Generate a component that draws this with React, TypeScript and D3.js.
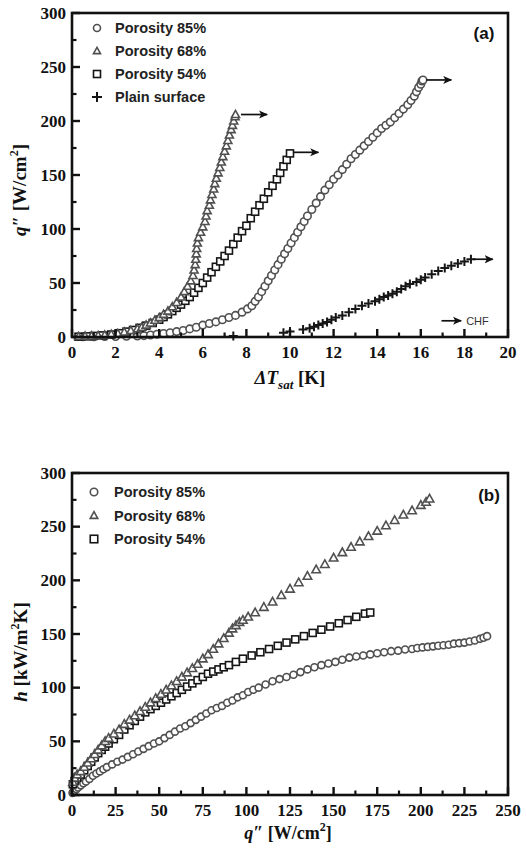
import React from 'react';
import * as d3 from 'd3';

type P = [number, number];

// ---------- Panel (a): q'' vs ΔT_sat ----------
const a85: P[] = [
  [0.5,0.2],[1,0.3],[1.5,0.4],[2,0.5],[2.5,0.7],[3,1],[3.3,1.3],[3.6,1.8],[3.9,2.5],[4.2,3.3],[4.5,4],[4.8,5],
  [5.1,6],[5.4,7.5],[5.7,9],[6.0,11],[6.3,12.5],[6.6,14],[6.9,16],[7.2,18],[7.5,20],[7.8,23],[8.05,26],[8.25,29],
  [8.4,33],[8.55,37],[8.7,42],[8.85,47],[9.0,52],[9.15,57],[9.3,62],[9.45,67],[9.6,72],[9.75,77],[9.9,82],
  [10.05,87],[10.2,92],[10.35,97],[10.5,102],[10.65,107],[10.8,112],[11.0,118],[11.2,124],[11.4,130],[11.6,136],[11.8,141],
  [12.0,146],[12.2,150],[12.4,155],[12.6,160],[12.8,165],[13.0,169],[13.2,173],[13.4,177],[13.6,181],[13.8,185],
  [14.0,189],[14.2,193],[14.4,196],[14.6,199],[14.8,203],[15.0,207],[15.2,211],[15.4,215],[15.55,219],[15.7,223],
  [15.8,227],[15.9,231],[16.0,234],[16.05,237],[16.1,238],
];
const a68: P[] = [
  [0.3,0.5],[0.6,0.8],[0.9,1],[1.2,1.3],[1.5,1.8],[1.8,2.5],[2.1,3.2],[2.4,4.5],[2.7,6],[3.0,7.5],[3.2,9],[3.4,11],
  [3.6,13],[3.8,15.5],[4.0,18],[4.2,21],[4.4,24],[4.6,28],[4.8,32],[5.0,37],[5.15,42],[5.3,47],[5.45,52],[5.55,57],
  [5.6,62],[5.65,67],[5.68,72],[5.7,77],[5.72,82],[5.75,87],[5.8,92],[5.9,97],[6.0,102],[6.1,107],[6.15,112],
  [6.2,117],[6.3,122],[6.35,127],[6.42,132],[6.5,137],[6.55,142],[6.62,147],[6.7,152],[6.78,157],[6.85,162],
  [6.92,167],[7.0,172],[7.08,177],[7.15,182],[7.22,187],[7.3,192],[7.36,196],[7.42,200],[7.48,204],[7.5,206],
];
const a54: P[] = [
  [0.3,0.3],[0.7,0.6],[1.0,1],[1.4,1.5],[1.8,2.3],[2.2,3.5],[2.5,5],[2.8,6.5],[3.1,8.5],[3.4,10.5],[3.7,13],
  [4.0,16],[4.2,18.5],[4.4,21],[4.6,24],[4.8,27],[5.0,30],[5.2,33.5],[5.4,37],[5.6,41],[5.8,45.5],[6.0,50],
  [6.2,55],[6.4,60],[6.6,65],[6.8,70],[7.0,75],[7.2,80],[7.4,86],[7.6,92],[7.8,98],[8.0,103],[8.2,110],[8.4,116],
  [8.6,122],[8.8,128],[9.0,134],[9.2,140],[9.4,146],[9.55,152],[9.7,158],[9.85,164],[10.0,170],
];
const aPlain: P[] = [
  [7.4,1],[9.7,4],[10.0,5],[10.6,7],[10.9,8],[11.1,9.5],[11.3,11],[11.5,12.5],[11.7,14],[11.9,16],[12.1,18],
  [12.4,20],[12.7,23],[13.0,26],[13.3,29],[13.6,31],[13.9,33],[14.1,35],[14.3,37],[14.5,38.5],[14.7,40],[14.9,42],
  [15.1,44.5],[15.3,47],[15.5,49],[15.8,51],[16.0,53],[16.2,55],[16.5,58],[16.8,61],[17.1,64],[17.4,66],[17.7,68],
  [18.0,70],[18.3,72],
];
// CHF arrows: [x start, x end, y]
const chfArrows: [number, number, number][] = [
  [7.75, 8.95, 206],
  [10.15, 11.3, 171],
  [16.25, 17.4, 238],
  [18.4, 19.3, 72],
];
const chfLegendArrow: [number, number, number] = [16.95, 17.85, 15];

// ---------- Panel (b): h vs q'' ----------
const b85: P[] = [
  [0.3,2],[0.8,3],[1.5,4],[2.5,5.5],[3.5,7],[5,9],[6.5,11],[8,12.5],[10,15],[12,18],[14,20],[16,22],[18,24],
  [20,26],[23,28.5],[26,31],[29,33],[32,35.5],[35,38],[38,40.5],[41,43],[44,45.5],[47,48],[50,50],[53,53],
  [56,56],[59,59],[62,62],[65,64],[68,67],[71,70],[74,73],[77,76],[80,79],[83,81],[86,83],[89,86],[92,88],
  [95,91],[98,93],[101,96],[104,98],[107,100],[111,103],[115,106],[119,108],[123,110],[127,112],[131,114.5],
  [135,117],[139,119],[143,121],[147,122.5],[151,124],[155,126],[159,128],[163,129],[167,130],[171,131],
  [175,132],[179,133],[183,134],[187,134.5],[191,135.5],[195,136],[198,137],[201,137.5],[204,138],[207,138.5],
  [210,139],[213,139.5],[216,140],[219,141],[222,141.5],[225,142],[228,143],[231,144],[234,145.5],[236,146.5],
  [238,148],
];
const b68: P[] = [
  [0.5,12],[1.5,16],[3,19],[5,22],[7,26],[9,30],[11,34],[13,38],[15,42],[17,46],[19,50],[21,53],[24,57],[27,61],
  [30,66],[33,70],[36,74],[39,78],[42,82],[45,86],[48,90],[51,94],[54,98],[57,102],[60,106],[63,110],[66,114],
  [69,118],[72,122],[75,127],[78,131],[81,136],[84,141],[87,146],[90,151],[92,155],[94,158],[96,161],[98,163],
  [101,166],[105,170],[110,175],[115,180],[120,186],[125,192],[130,198],[135,204],[140,210],[145,215],[150,221],
  [155,226],[160,231],[165,236],[170,241],[175,246],[180,251],[185,256],[190,261],[195,265],[200,270],[203,273],
  [205,276],
];
const b54: P[] = [
  [0.5,10],[1.5,13],[3,16],[5,19],[7,23],[9,27],[11,31],[13,35],[15,39],[17,42],[19,45],[21,48],[24,52],[27,56],
  [30,61],[33,65],[36,69],[39,73],[42,77],[45,80],[48,83],[51,86],[54,89],[57,92],[60,95],[63,98],[66,101],
  [69,104],[72,107],[75,110],[78,113],[81,115],[84,117],[87,119],[90,121],[94,124],[98,127],[103,130],[108,133],
  [113,136],[118,139],[123,142],[128,145],[133,148],[138,151],[143,154],[148,157],[153,160],[158,163],[163,166],
  [168,169],[171,170],
];

const xTicksA = [0, 2, 4, 6, 8, 10, 12, 14, 16, 18, 20];
const xMinorA = [1, 3, 5, 7, 9, 11, 13, 15, 17, 19];
const yTicks = [0, 50, 100, 150, 200, 250, 300];
const yMinor = [25, 75, 125, 175, 225, 275];
const xTicksB = [0, 25, 50, 75, 100, 125, 150, 175, 200, 225, 250];
const xMinorB = [12.5, 37.5, 62.5, 87.5, 112.5, 137.5, 162.5, 187.5, 212.5, 237.5];

const legendA = ['Porosity 85%', 'Porosity 68%', 'Porosity 54%', 'Plain surface'];
const legendB = ['Porosity 85%', 'Porosity 68%', 'Porosity 54%'];

const GREY = '#505050';
const DARK = '#161616';
const SERIF = '"Liberation Serif", "Times New Roman", serif';
const SANS = '"Liberation Sans", Arial, sans-serif';

type Kind = 'circle' | 'triangle' | 'square' | 'plus';

function Mark({ kind, x, y, s, color, sw = 1.6 }: { kind: Kind; x: number; y: number; s: number; color: string; sw?: number }) {
  if (kind === 'circle') return <circle cx={x} cy={y} r={s / 2} fill="#fff" stroke={color} strokeWidth={sw} />;
  if (kind === 'square') return <rect x={x - s / 2} y={y - s / 2} width={s} height={s} fill="#fff" stroke={color} strokeWidth={sw} />;
  if (kind === 'triangle') {
    const h = s * 0.9;
    return <path d={`M${x},${y - h * 0.58}L${x + s / 2},${y + h * 0.42}L${x - s / 2},${y + h * 0.42}Z`} fill="#fff" stroke={color} strokeWidth={sw} strokeLinejoin="miter" />;
  }
  return <path d={`M${x - s / 2},${y}H${x + s / 2}M${x},${y - s / 2}V${y + s / 2}`} stroke={color} strokeWidth={2} fill="none" />;
}

function Frame({ x, y, xMajor, xMinor, yMajor, yMinor, xFmt }: any) {
  const [x0, x1] = x.range();
  const [y0, y1] = y.range();
  const sw = 2.6;
  return (
    <g>
      <rect x={x0} y={y1} width={x1 - x0} height={y0 - y1} fill="none" stroke="#111" strokeWidth={sw} />
      {xMajor.map((t: number) => (
        <line key={'xm' + t} x1={x(t)} x2={x(t)} y1={y0} y2={y0 - 8} stroke="#111" strokeWidth={2.4} />
      ))}
      {xMinor.map((t: number) => (
        <line key={'xn' + t} x1={x(t)} x2={x(t)} y1={y0} y2={y0 - 4.5} stroke="#111" strokeWidth={2.2} />
      ))}
      {yMajor.map((t: number) => (
        <line key={'ym' + t} x1={x0} x2={x0 + 8} y1={y(t)} y2={y(t)} stroke="#111" strokeWidth={2.4} />
      ))}
      {yMinor.map((t: number) => (
        <line key={'yn' + t} x1={x0} x2={x0 + 4.5} y1={y(t)} y2={y(t)} stroke="#111" strokeWidth={2.2} />
      ))}
      {xMajor.map((t: number) => (
        <text key={'xl' + t} x={x(t)} y={y0 + 21} textAnchor="middle" fontFamily={SERIF} fontWeight="bold" fontSize={17} fill="#111">
          {xFmt(t)}
        </text>
      ))}
      {yMajor.map((t: number) => (
        <text key={'yl' + t} x={x0 - 6} y={y(t) + 5.5} textAnchor="end" fontFamily={SERIF} fontWeight="bold" fontSize={17} fill="#111">
          {t}
        </text>
      ))}
    </g>
  );
}

export default function App() {
  const xA = d3.scaleLinear().domain([0, 20]).range([72, 508]);
  const yA = d3.scaleLinear().domain([0, 300]).range([337, 13]);
  const xB = d3.scaleLinear().domain([0, 250]).range([72, 508]);
  const yB = d3.scaleLinear().domain([0, 300]).range([795, 473]);

  const seriesA: { data: P[]; kind: Kind; color: string; s: number }[] = [
    { data: aPlain, kind: 'plus', color: DARK, s: 9 },
    { data: a85, kind: 'circle', color: GREY, s: 7.5 },
    { data: a54, kind: 'square', color: DARK, s: 7 },
    { data: a68, kind: 'triangle', color: GREY, s: 8 },
  ];
  const seriesB: { data: P[]; kind: Kind; color: string; s: number }[] = [
    { data: b85, kind: 'circle', color: GREY, s: 7 },
    { data: b54, kind: 'square', color: DARK, s: 7 },
    { data: b68, kind: 'triangle', color: GREY, s: 8.5 },
  ];
  const legKindsA: Kind[] = ['circle', 'triangle', 'square', 'plus'];
  const legColA = [GREY, GREY, DARK, DARK];
  const legKindsB: Kind[] = ['circle', 'triangle', 'square'];
  const legColB = [GREY, GREY, DARK];

  return (
    <svg width={526} height={862} style={{ position: 'absolute', left: 0, top: 0, background: '#fff' }}>
      <defs>
        <marker id="ah" viewBox="0 0 10 10" refX="9" refY="5" markerWidth="9" markerHeight="9" markerUnits="userSpaceOnUse" orient="auto">
          <path d="M0,0.5L10,5L0,9.5L2.5,5Z" fill="#111" />
        </marker>
      </defs>
      <rect x={0} y={0} width={526} height={862} fill="#fff" />

      {/* Panel (a) */}
      <g>
        {seriesA.map((s, i) => (
          <g key={i}>
            {s.data.map((d, j) => (
              <Mark key={j} kind={s.kind} x={xA(d[0])} y={yA(d[1])} s={s.s} color={s.color} />
            ))}
          </g>
        ))}
        {chfArrows.map((a, i) => (
          <line key={i} x1={xA(a[0])} x2={xA(a[1])} y1={yA(a[2])} y2={yA(a[2])} stroke="#111" strokeWidth={1.7} markerEnd="url(#ah)" />
        ))}
        <line x1={xA(chfLegendArrow[0])} x2={xA(chfLegendArrow[1])} y1={yA(chfLegendArrow[2])} y2={yA(chfLegendArrow[2])} stroke="#111" strokeWidth={1.7} markerEnd="url(#ah)" />
        <text x={xA(chfLegendArrow[1]) + 5} y={yA(chfLegendArrow[2]) + 4} fontFamily={SANS} fontSize={11} fill="#333">CHF</text>
        <Frame x={xA} y={yA} xMajor={xTicksA} xMinor={xMinorA} yMajor={yTicks} yMinor={yMinor} xFmt={(t: number) => String(t)} />
        {legendA.map((l, i) => (
          <g key={l}>
            <Mark kind={legKindsA[i]} x={97} y={28 + i * 23} s={i === 3 ? 10 : 7} color={legColA[i]} />
            <text x={115} y={28 + i * 23 + 5} fontFamily={SANS} fontWeight="bold" fontSize={14.5} fill="#222">{l}</text>
          </g>
        ))}
        <text x={484} y={39} textAnchor="middle" fontFamily={SANS} fontWeight="bold" fontSize={17} fill="#111">(a)</text>
        <text transform="translate(26,190) rotate(-90)" textAnchor="middle" fontFamily={SERIF} fontWeight="bold" fontSize={19} fill="#111">
          <tspan fontStyle="italic">q″</tspan>
          <tspan> [W/cm</tspan>
          <tspan fontSize={12} dy={-8}>2</tspan>
          <tspan dy={8}>]</tspan>
        </text>
        <text x={290} y={384} textAnchor="middle" fontFamily={SERIF} fontWeight="bold" fontSize={19} fill="#111">
          <tspan fontStyle="italic">ΔT</tspan>
          <tspan fontStyle="italic" fontSize={13} dy={5}>sat</tspan>
          <tspan dy={-5}> [K]</tspan>
        </text>
      </g>

      {/* Panel (b) */}
      <g>
        {seriesB.map((s, i) => (
          <g key={i}>
            {s.data.map((d, j) => (
              <Mark key={j} kind={s.kind} x={xB(d[0])} y={yB(d[1])} s={s.s} color={s.color} />
            ))}
          </g>
        ))}
        <Frame x={xB} y={yB} xMajor={xTicksB} xMinor={xMinorB} yMajor={yTicks} yMinor={yMinor} xFmt={(t: number) => String(t)} />
        {legendB.map((l, i) => (
          <g key={l}>
            <Mark kind={legKindsB[i]} x={94} y={492 + i * 23.5} s={7.5} color={legColB[i]} />
            <text x={114} y={492 + i * 23.5 + 5} fontFamily={SANS} fontWeight="bold" fontSize={14.5} fill="#222">{l}</text>
          </g>
        ))}
        <text x={489} y={501} textAnchor="middle" fontFamily={SANS} fontWeight="bold" fontSize={17} fill="#111">(b)</text>
        <text transform="translate(27,652) rotate(-90)" textAnchor="middle" fontFamily={SERIF} fontWeight="bold" fontSize={19} fill="#111">
          <tspan fontStyle="italic">h</tspan>
          <tspan> [kW/m</tspan>
          <tspan fontSize={12} dy={-8}>2</tspan>
          <tspan dy={8}>K]</tspan>
        </text>
        <text x={288} y={839} textAnchor="middle" fontFamily={SERIF} fontWeight="bold" fontSize={18} fill="#111">
          <tspan fontStyle="italic">q″</tspan>
          <tspan> [W/cm</tspan>
          <tspan fontSize={12} dy={-8}>2</tspan>
          <tspan dy={8}>]</tspan>
        </text>
      </g>
    </svg>
  );
}
